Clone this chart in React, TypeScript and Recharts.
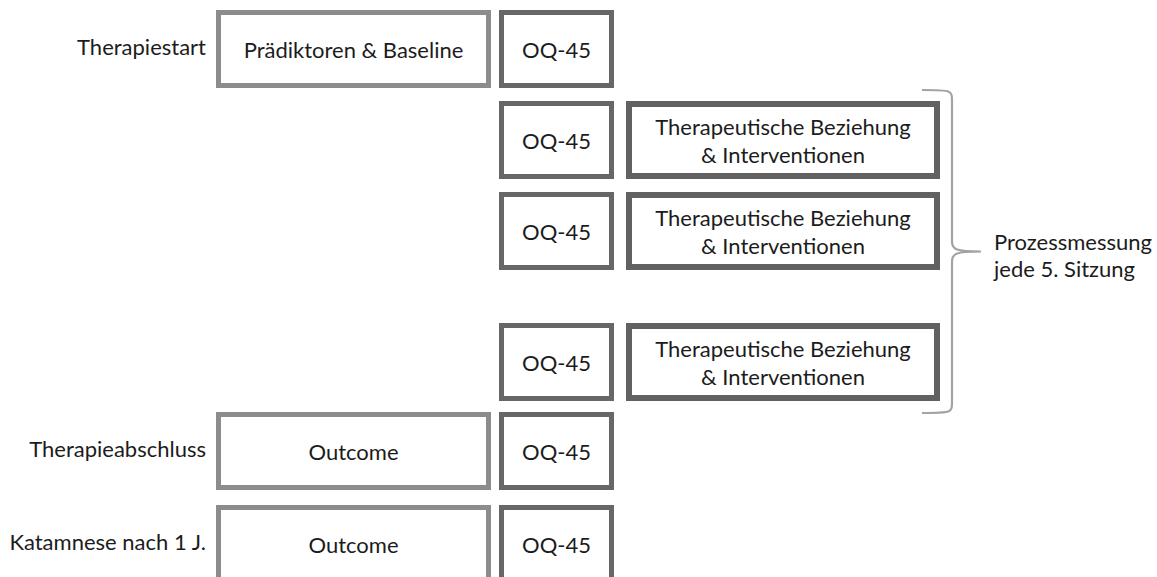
import React from 'react';
import { ComposedChart, Scatter, XAxis, YAxis, ReferenceArea } from 'recharts';

const W = 1157;
const H = 577;

// time points, top to bottom ('' = no entry in that column)
const rowLabels = ['Therapiestart', '', '', '', 'Therapieabschluss', 'Katamnese nach 1 J.'];
const baselineBoxes = ['Prädiktoren & Baseline', '', '', '', 'Outcome', 'Outcome'];
const oqBoxes = ['OQ-45', 'OQ-45', 'OQ-45', 'OQ-45', 'OQ-45', 'OQ-45'];
const processBoxes = [
    '',
    'Therapeutische Beziehung\n& Interventionen',
    'Therapeutische Beziehung\n& Interventionen',
    'Therapeutische Beziehung\n& Interventionen',
    '',
    '',
];
const braceText = ['Prozessmessung', 'jede 5. Sitzung'];

// layout (pixel units, axes map 1:1)
const rowCenters = [49, 140, 231, 362, 451, 544];
const ROW_H = 78;
const LABEL_RIGHT = 206;
const COL_BASELINE = { cx: 353.5, w: 275, stroke: '#8c8c8c', sw: 5 };
const COL_OQ = { cx: 556.5, w: 115, stroke: '#676767', sw: 5 };
const COL_PROCESS = { cx: 783, w: 314, stroke: '#616161', sw: 6 };
const BRACE = { x1: 922, x2: 981, y1: 90, y2: 413 };

const FONT = 'Lato, "Open Sans", sans-serif';
const FONT_SIZE = 22;
const LINE_H = 28;

type Col = { cx: number; w: number; stroke: string; sw: number };

const toPoints = (texts: string[], col: Col) =>
    texts
        .map((text, i) => ({ x: col.cx, y: rowCenters[i], text }))
        .filter(d => d.text);

const boxShape = (col: Col) => (props: any) => {
    const { cx, cy, payload } = props;
    const lines: string[] = payload.text.split('\n');
    return (
        <g>
            <rect
                x={cx - col.w / 2 + col.sw / 2}
                y={cy - ROW_H / 2 + col.sw / 2}
                width={col.w - col.sw}
                height={ROW_H - col.sw}
                fill="#fff"
                stroke={col.stroke}
                strokeWidth={col.sw}
            />
            {lines.map((l, i) => (
                <text
                    key={i}
                    x={cx}
                    y={cy + (i - (lines.length - 1) / 2) * LINE_H}
                    textAnchor="middle"
                    dominantBaseline="central"
                    fontFamily={FONT}
                    fontSize={FONT_SIZE}
                    fill="#1c1c1c"
                >
                    {l}
                </text>
            ))}
        </g>
    );
};

const labelShape = (props: any) => {
    const { cx, cy, payload } = props;
    return (
        <text x={cx} y={cy - 3} textAnchor="end" dominantBaseline="central" fontFamily={FONT} fontSize={FONT_SIZE} fill="#1c1c1c">
            {payload.text}
        </text>
    );
};

const braceShape = (props: any) => {
    const { x, y, width, height } = props;
    const vx = x + 30;
    const tip = x + width;
    const mid = y + height / 2;
    const b = y + height;
    const d = `M ${x} ${y} C ${vx} ${y}, ${vx} ${y}, ${vx} ${y + 12} L ${vx} ${mid - 10} C ${vx} ${mid - 2}, ${vx + 4} ${mid}, ${tip} ${mid}`
        + ` C ${vx + 4} ${mid}, ${vx} ${mid + 2}, ${vx} ${mid + 10} L ${vx} ${b - 12} C ${vx} ${b}, ${vx} ${b}, ${x} ${b}`;
    return (
        <g>
            <path d={d} fill="none" stroke="#a3a3a3" strokeWidth={2.2} />
            {braceText.map((t, i) => (
                <text key={i} x={tip + 13} y={mid - 10 + i * 27} dominantBaseline="central" fontFamily={FONT} fontSize={FONT_SIZE} fill="#1c1c1c">
                    {t}
                </text>
            ))}
        </g>
    );
};

const App: React.FC = () => {
    const labels = toPoints(rowLabels, { cx: LABEL_RIGHT, w: 0, stroke: '', sw: 0 });
    const baseline = toPoints(baselineBoxes, COL_BASELINE);
    const oq = toPoints(oqBoxes, COL_OQ);
    const process = toPoints(processBoxes, COL_PROCESS);

    return (
        <div style={{ position: 'absolute', left: 0, top: 0, width: W, height: H, background: '#fff', overflow: 'hidden' }}>
            <ComposedChart width={W} height={H} margin={{ top: 0, right: 0, bottom: 0, left: 0 }}>
                <XAxis type="number" dataKey="x" domain={[0, W]} hide allowDataOverflow />
                <YAxis type="number" dataKey="y" domain={[0, H]} reversed hide allowDataOverflow />
                <ReferenceArea
                    x1={BRACE.x1}
                    x2={BRACE.x2}
                    y1={BRACE.y1}
                    y2={BRACE.y2}
                    ifOverflow="visible"
                    shape={braceShape}
                />
                <Scatter data={labels} shape={labelShape} isAnimationActive={false} />
                <Scatter data={baseline} shape={boxShape(COL_BASELINE)} isAnimationActive={false} />
                <Scatter data={oq} shape={boxShape(COL_OQ)} isAnimationActive={false} />
                <Scatter data={process} shape={boxShape(COL_PROCESS)} isAnimationActive={false} />
            </ComposedChart>
        </div>
    );
};

export default App;
